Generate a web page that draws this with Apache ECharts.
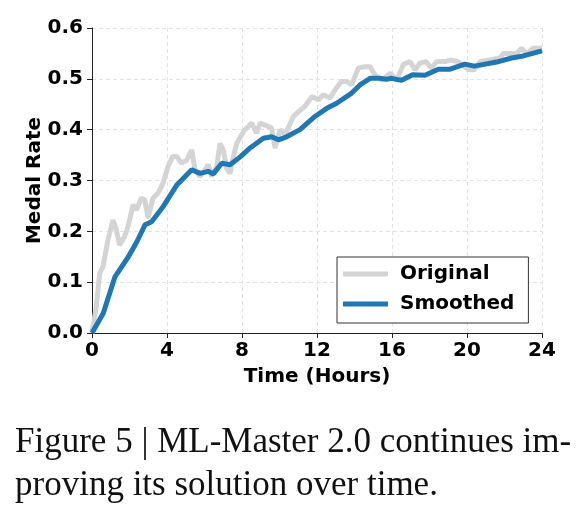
<!DOCTYPE html>
<html>
<head>
<meta charset="utf-8">
<script src="https://cdn.jsdelivr.net/npm/echarts@6/dist/echarts.min.js"></script>
<style>
    html, body { margin: 0; padding: 0; background: #fff; }
    #chart-container { width: 581px; height: 518px; }
</style>
</head>
<body>
<div id="chart-container"></div>
<script>
// [hours, medal rate]
const originalPoints = [
    [0, 0], [0.23, 0.052], [0.41, 0.118], [0.59, 0.131], [0.85, 0.183], [1.12, 0.222],
    [1.3, 0.203], [1.47, 0.173], [1.74, 0.19], [1.92, 0.209], [2.19, 0.252], [2.37, 0.242],
    [2.63, 0.265], [2.81, 0.262], [2.99, 0.226], [3.25, 0.265], [3.52, 0.275], [3.79, 0.295],
    [4.05, 0.327], [4.3, 0.347], [4.52, 0.347], [4.78, 0.334], [5.05, 0.34], [5.32, 0.36],
    [5.49, 0.321], [5.76, 0.308], [6.03, 0.321], [6.2, 0.331], [6.38, 0.308], [6.65, 0.328],
    [6.83, 0.373], [7.0, 0.36], [7.18, 0.324], [7.36, 0.314], [7.54, 0.347], [7.72, 0.373],
    [7.98, 0.39], [8.16, 0.4], [8.52, 0.413], [8.78, 0.393], [8.96, 0.413], [9.23, 0.409],
    [9.58, 0.403], [9.76, 0.364], [10.03, 0.4], [10.3, 0.39], [10.74, 0.426], [11.0, 0.435],
    [11.36, 0.446], [11.72, 0.465], [12.07, 0.459], [12.34, 0.469], [12.69, 0.462], [12.96, 0.478],
    [13.3, 0.495], [13.58, 0.495], [13.85, 0.488], [14.2, 0.521], [14.56, 0.524], [14.83, 0.524],
    [15.09, 0.508], [15.45, 0.497], [15.9, 0.511], [16.25, 0.497], [16.6, 0.528], [16.96, 0.534],
    [17.23, 0.518], [17.49, 0.531], [17.8, 0.534], [18.1, 0.521], [18.38, 0.534], [18.83, 0.534],
    [19.1, 0.537], [19.5, 0.534], [20.07, 0.518], [20.4, 0.518], [20.7, 0.534], [21.2, 0.537],
    [21.76, 0.541], [21.94, 0.55], [22.3, 0.55], [22.65, 0.55], [22.9, 0.56], [23.18, 0.55],
    [23.54, 0.56], [24, 0.56]
];

const smoothedPoints = [
    [0, 0], [0.6, 0.039], [1.23, 0.111], [1.94, 0.15], [2.4, 0.18], [2.83, 0.213],
    [3.18, 0.219], [3.8, 0.249], [4.52, 0.291], [5.32, 0.321], [5.76, 0.314], [6.2, 0.318],
    [6.47, 0.313], [6.92, 0.334], [7.36, 0.331], [7.89, 0.346], [8.43, 0.364], [9.14, 0.383],
    [9.58, 0.386], [9.94, 0.38], [10.38, 0.386], [11.09, 0.4], [11.89, 0.426], [12.52, 0.442],
    [13.05, 0.452], [13.85, 0.472], [14.29, 0.488], [14.83, 0.501], [15.36, 0.501], [15.7, 0.499],
    [15.98, 0.501], [16.5, 0.497], [17.1, 0.508], [17.76, 0.507], [18.47, 0.519], [19.1, 0.519],
    [19.89, 0.529], [20.4, 0.525], [21.58, 0.533], [22.38, 0.541], [23.0, 0.545], [23.7, 0.552],
    [24, 0.555]
];

const seriesNames = ['Original', 'Smoothed'];
const hourTicks = [0, 4, 8, 12, 16, 20, 24];
const rateTicks = [0, 0.1, 0.2, 0.3, 0.4, 0.5, 0.6];

const captionLines = [
    'Figure 5 | ML-Master 2.0 continues im-',
    'proving its solution over time.'
];

var dom = document.getElementById('chart-container');
var myChart = echarts.init(dom, null, { renderer: 'canvas' });

var tickFont = {
    color: '#000',
    fontFamily: 'DejaVu Sans',
    fontWeight: 'bold',
    fontSize: 20
};

var option = {
    backgroundColor: '#fff',
    animation: false,
    grid: { left: 92, right: 39, top: 28, bottom: 185 },
    legend: {
        orient: 'vertical',
        left: 337,
        top: 257,
        padding: [7, 14, 9, 6],
        itemGap: 10,
        itemWidth: 45,
        itemHeight: 5,
        icon: 'rect',
        borderColor: '#333',
        borderWidth: 1,
        backgroundColor: '#fff',
        textStyle: Object.assign({}, tickFont, { padding: [0, 0, 0, 7] }),
        data: seriesNames
    },
    xAxis: {
        type: 'value',
        min: hourTicks[0],
        max: hourTicks[hourTicks.length - 1],
        interval: 4,
        name: 'Time (Hours)',
        nameLocation: 'middle',
        nameGap: 34,
        nameMoveOverlap: false,
        nameTextStyle: tickFont,
        axisLine: { show: true, lineStyle: { color: '#222', width: 1 } },
        axisTick: { show: true, length: 5, lineStyle: { color: '#222' } },
        axisLabel: Object.assign({ margin: 8 }, tickFont),
        splitLine: { show: true, lineStyle: { color: '#e2e2e2', type: [4, 3] } }
    },
    yAxis: {
        type: 'value',
        min: rateTicks[0],
        max: rateTicks[rateTicks.length - 1],
        interval: 0.1,
        name: 'Medal Rate',
        nameLocation: 'middle',
        nameGap: 47,
        nameMoveOverlap: false,
        nameTextStyle: tickFont,
        axisLine: { show: true, lineStyle: { color: '#222', width: 1 } },
        axisTick: { show: true, length: 5, lineStyle: { color: '#222' } },
        axisLabel: Object.assign({
            margin: 9,
            formatter: function (v) { return v.toFixed(1); }
        }, tickFont),
        splitLine: { show: true, lineStyle: { color: '#e2e2e2', type: [4, 3] } }
    },
    graphic: captionLines.map(function (line, i) {
        return {
            type: 'text',
            left: 15,
            top: 425 + i * 43,
            style: {
                text: line,
                fill: '#111',
                font: '35px "Liberation Serif"'
            }
        };
    }),
    series: [
        {
            name: seriesNames[0],
            type: 'line',
            data: originalPoints,
            showSymbol: false,
            color: '#d4d4d4',
            lineStyle: { width: 5, color: '#d4d4d4' },
            z: 2
        },
        {
            name: seriesNames[1],
            type: 'line',
            data: smoothedPoints,
            showSymbol: false,
            color: '#1f77b4',
            lineStyle: { width: 5, color: '#1f77b4' },
            z: 3
        }
    ]
};

myChart.setOption(option);
window.addEventListener('resize', myChart.resize);
</script>
</body>
</html>
